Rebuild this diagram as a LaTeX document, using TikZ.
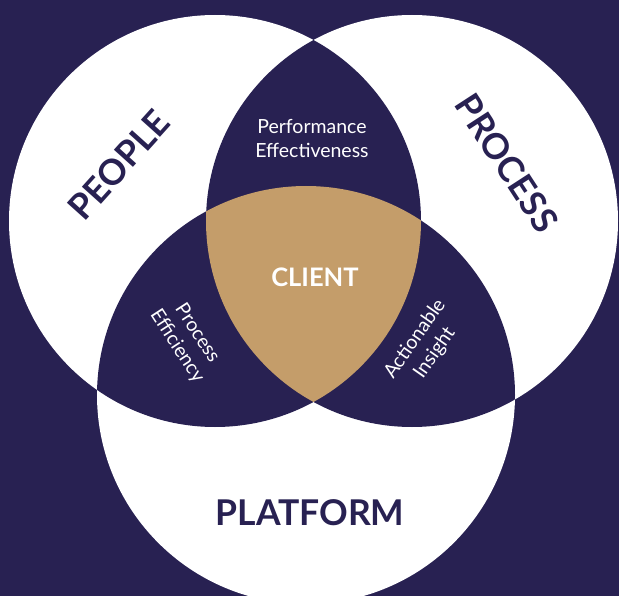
\documentclass[tikz,border=0pt]{standalone}
\usepackage{fontspec}
\setmainfont{Lato}
\definecolor{navy}{RGB}{40,33,82}
\definecolor{tanc}{RGB}{196,157,106}
\tikzset{
  biglabel/.style={text=navy, font=\fontsize{35.5}{40}\selectfont\bfseries, inner sep=0pt},
  smalllabel/.style={text=white, font=\fontsize{19.5}{24}\selectfont, align=center, inner sep=0pt},
}
\begin{document}
\begin{tikzpicture}[x=1pt,y=-1pt]
\fill[navy] (0,0) rectangle (619,596);
\useasboundingbox (0,0) rectangle (619,596);
\coordinate (cl) at (215,221);
\coordinate (cr) at (412,221);
\coordinate (cb) at (306,395);
% white circles
\fill[white] (cl) circle[radius=206pt];
\fill[white] (cr) circle[radius=206pt];
\fill[white] (cb) circle[radius=209pt];
% pairwise overlaps
\begin{scope}
  \clip (cl) circle[radius=206pt];
  \fill[navy] (cr) circle[radius=206pt];
  \fill[navy] (cb) circle[radius=209pt];
\end{scope}
\begin{scope}
  \clip (cr) circle[radius=206pt];
  \fill[navy] (cb) circle[radius=209pt];
\end{scope}
% centre
\begin{scope}
  \clip (cl) circle[radius=206pt];
  \clip (cr) circle[radius=206pt];
  \fill[tanc] (cb) circle[radius=209pt];
\end{scope}
% labels
\node[biglabel, rotate=48] (people) at (119,165) {PEOPLE};
\node[biglabel, rotate=-57] (process) at (507,163) {PROCESS};
\node[biglabel] (platform) at (310,513) {PLATFORM};
\node[text=white, font=\fontsize{25.5}{30}\selectfont\bfseries, inner sep=0pt] (client) at (315,277) {CLIENT};
\node[smalllabel] (perf) at (312,138) {Performance\\Effectiveness};
\node[smalllabel, rotate=-57] (eff) at (187,340) {Process\\Efficiency};
\node[smalllabel, rotate=55] (act) at (425,346) {Actionable\\Insight};
\end{tikzpicture}
\end{document}
